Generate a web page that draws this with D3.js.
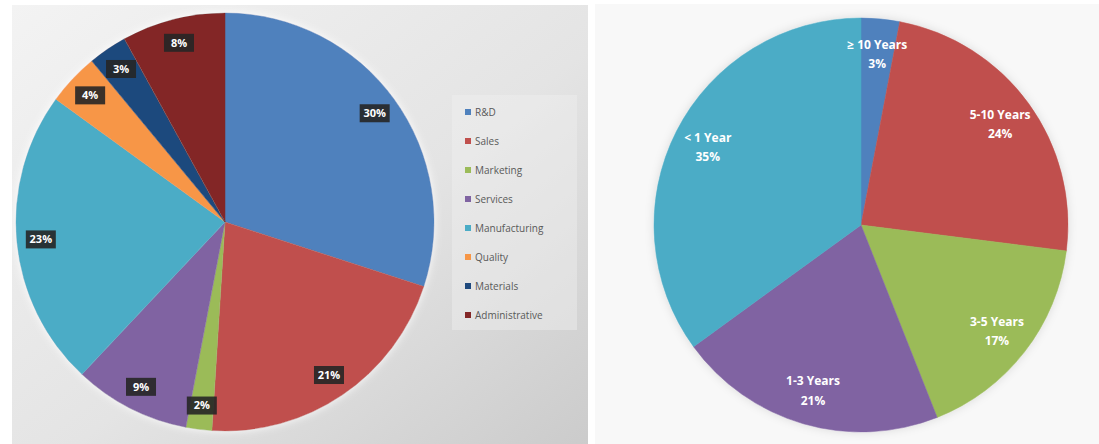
<!DOCTYPE html>
<head>
    <meta charset="utf-8">
    <script src="https://d3js.org/d3.v7.min.js"></script>
</head>
<style>
    body { margin: 0; background: #ffffff; }
    text { font-family: "Open Sans", "Liberation Sans", sans-serif; }
</style>
<body>
    <div id="chart"></div>
</body>

<script>
    // department split (left pie)
    const departments = ["R&D", "Sales", "Marketing", "Services", "Manufacturing", "Quality", "Materials", "Administrative"];
    const deptShare = [30, 21, 2, 9, 23, 4, 3, 8];
    const deptColors = ["#4f81bd", "#c0504d", "#9bbb59", "#8064a2", "#4bacc6", "#f79646", "#1f497d", "#832727"];

    // years of service (right pie)
    const tenure = ["\u2265 10 Years", "5-10 Years", "3-5 Years", "1-3 Years", "< 1 Year"];
    const tenureShare = [3, 24, 17, 21, 35];
    const tenureColors = ["#4f81bd", "#c0504d", "#9bbb59", "#8064a2", "#4bacc6"];

    const W = 1099, H = 444;

    const svg = d3.select("#chart")
        .append("svg")
        .attr("width", W)
        .attr("height", H);

    const defs = svg.append("defs");

    const grad = defs.append("linearGradient")
        .attr("id", "panelGrad")
        .attr("x1", "0%").attr("y1", "0%")
        .attr("x2", "100%").attr("y2", "100%");
    grad.append("stop").attr("offset", "0%").attr("stop-color", "#f3f3f3");
    grad.append("stop").attr("offset", "55%").attr("stop-color", "#e4e4e4");
    grad.append("stop").attr("offset", "100%").attr("stop-color", "#cbcbcb");

    const glow = defs.append("filter").attr("id", "glow")
        .attr("x", "-10%").attr("y", "-10%").attr("width", "120%").attr("height", "120%");
    glow.append("feGaussianBlur").attr("in", "SourceAlpha").attr("stdDeviation", 4).attr("result", "b");
    glow.append("feFlood").attr("flood-color", "#ffffff").attr("flood-opacity", 0.9);
    glow.append("feComposite").attr("in2", "b").attr("operator", "in").attr("result", "g");
    const gm = glow.append("feMerge");
    gm.append("feMergeNode").attr("in", "g");
    gm.append("feMergeNode").attr("in", "SourceGraphic");

    const shadow = defs.append("filter").attr("id", "shadow")
        .attr("x", "-10%").attr("y", "-10%").attr("width", "120%").attr("height", "120%");
    shadow.append("feGaussianBlur").attr("in", "SourceAlpha").attr("stdDeviation", 5).attr("result", "b");
    shadow.append("feFlood").attr("flood-color", "#000000").attr("flood-opacity", 0.12);
    shadow.append("feComposite").attr("in2", "b").attr("operator", "in").attr("result", "s");
    const sm = shadow.append("feMerge");
    sm.append("feMergeNode").attr("in", "s");
    sm.append("feMergeNode").attr("in", "SourceGraphic");

    // panels
    svg.append("rect")
        .attr("x", 12).attr("y", 5)
        .attr("width", 576).attr("height", H)
        .attr("fill", "url(#panelGrad)");
    svg.append("rect")
        .attr("x", 595).attr("y", 4)
        .attr("width", W - 595).attr("height", H)
        .attr("fill", "#f8f8f8");

    const pie = d3.pie().sort(null).value(d => d.value);

    // ---------- left pie ----------
    const leftData = departments.map((d, i) => ({name: d, value: deptShare[i], color: deptColors[i]}));
    const rL = 209;
    const left = svg.append("g").attr("transform", "translate(225,222)");
    const arcL = d3.arc().innerRadius(0).outerRadius(rL);
    const labelArcL = d3.arc().innerRadius(185).outerRadius(185);

    left.append("g").attr("filter", "url(#glow)")
        .selectAll("path")
        .data(pie(leftData))
        .join("path")
        .attr("d", arcL)
        .attr("fill", d => d.data.color)
        .attr("stroke", d => d.data.color)
        .attr("stroke-width", 0.5);

    const lblL = left.selectAll(".lblL")
        .data(pie(leftData))
        .join("g")
        .attr("class", "lblL")
        .attr("transform", d => `translate(${labelArcL.centroid(d)})`);
    lblL.append("rect")
        .attr("x", -15).attr("y", -9)
        .attr("width", 30).attr("height", 18)
        .attr("fill", "#262626")
        .attr("opacity", 0.9);
    lblL.append("text")
        .attr("text-anchor", "middle")
        .attr("dy", "0.35em")
        .attr("fill", "#ffffff")
        .attr("font-size", 11)
        .attr("font-weight", "bold")
        .text(d => d.data.value + "%");

    // legend
    svg.append("rect")
        .attr("x", 452).attr("y", 95)
        .attr("width", 125).attr("height", 235)
        .attr("fill", "#efefef")
        .attr("opacity", 0.45);
    const ly = d3.scalePoint().domain(departments).range([112, 315]);
    const leg = svg.selectAll(".leg")
        .data(leftData)
        .join("g")
        .attr("class", "leg")
        .attr("transform", d => `translate(468,${ly(d.name)})`);
    leg.append("rect")
        .attr("x", -3).attr("y", -3)
        .attr("width", 6).attr("height", 6)
        .attr("fill", d => d.color);
    leg.append("text")
        .attr("x", 7)
        .attr("dy", "0.35em")
        .attr("fill", "#595959")
        .attr("font-size", 10)
        .text(d => d.name);

    // ---------- right pie ----------
    const rightData = tenure.map((d, i) => ({name: d, value: tenureShare[i], color: tenureColors[i]}));
    const rR = 207;
    const right = svg.append("g").attr("transform", "translate(861,225)");
    const arcR = d3.arc().innerRadius(0).outerRadius(rR);
    const labelArcR = d3.arc().innerRadius(172).outerRadius(172);

    right.append("g").attr("filter", "url(#shadow)")
        .selectAll("path")
        .data(pie(rightData))
        .join("path")
        .attr("d", arcR)
        .attr("fill", d => d.data.color)
        .attr("stroke", d => d.data.color)
        .attr("stroke-width", 0.5);

    const lblR = right.selectAll(".lblR")
        .data(pie(rightData))
        .join("text")
        .attr("class", "lblR")
        .attr("transform", d => `translate(${labelArcR.centroid(d)})`)
        .attr("text-anchor", "middle")
        .attr("fill", "#ffffff")
        .attr("font-size", 12)
        .attr("font-weight", "bold");
    lblR.append("tspan")
        .attr("x", 0).attr("dy", "-0.4em")
        .text(d => d.data.name);
    lblR.append("tspan")
        .attr("x", 0).attr("dy", "1.6em")
        .text(d => d.data.value + "%");
</script>
